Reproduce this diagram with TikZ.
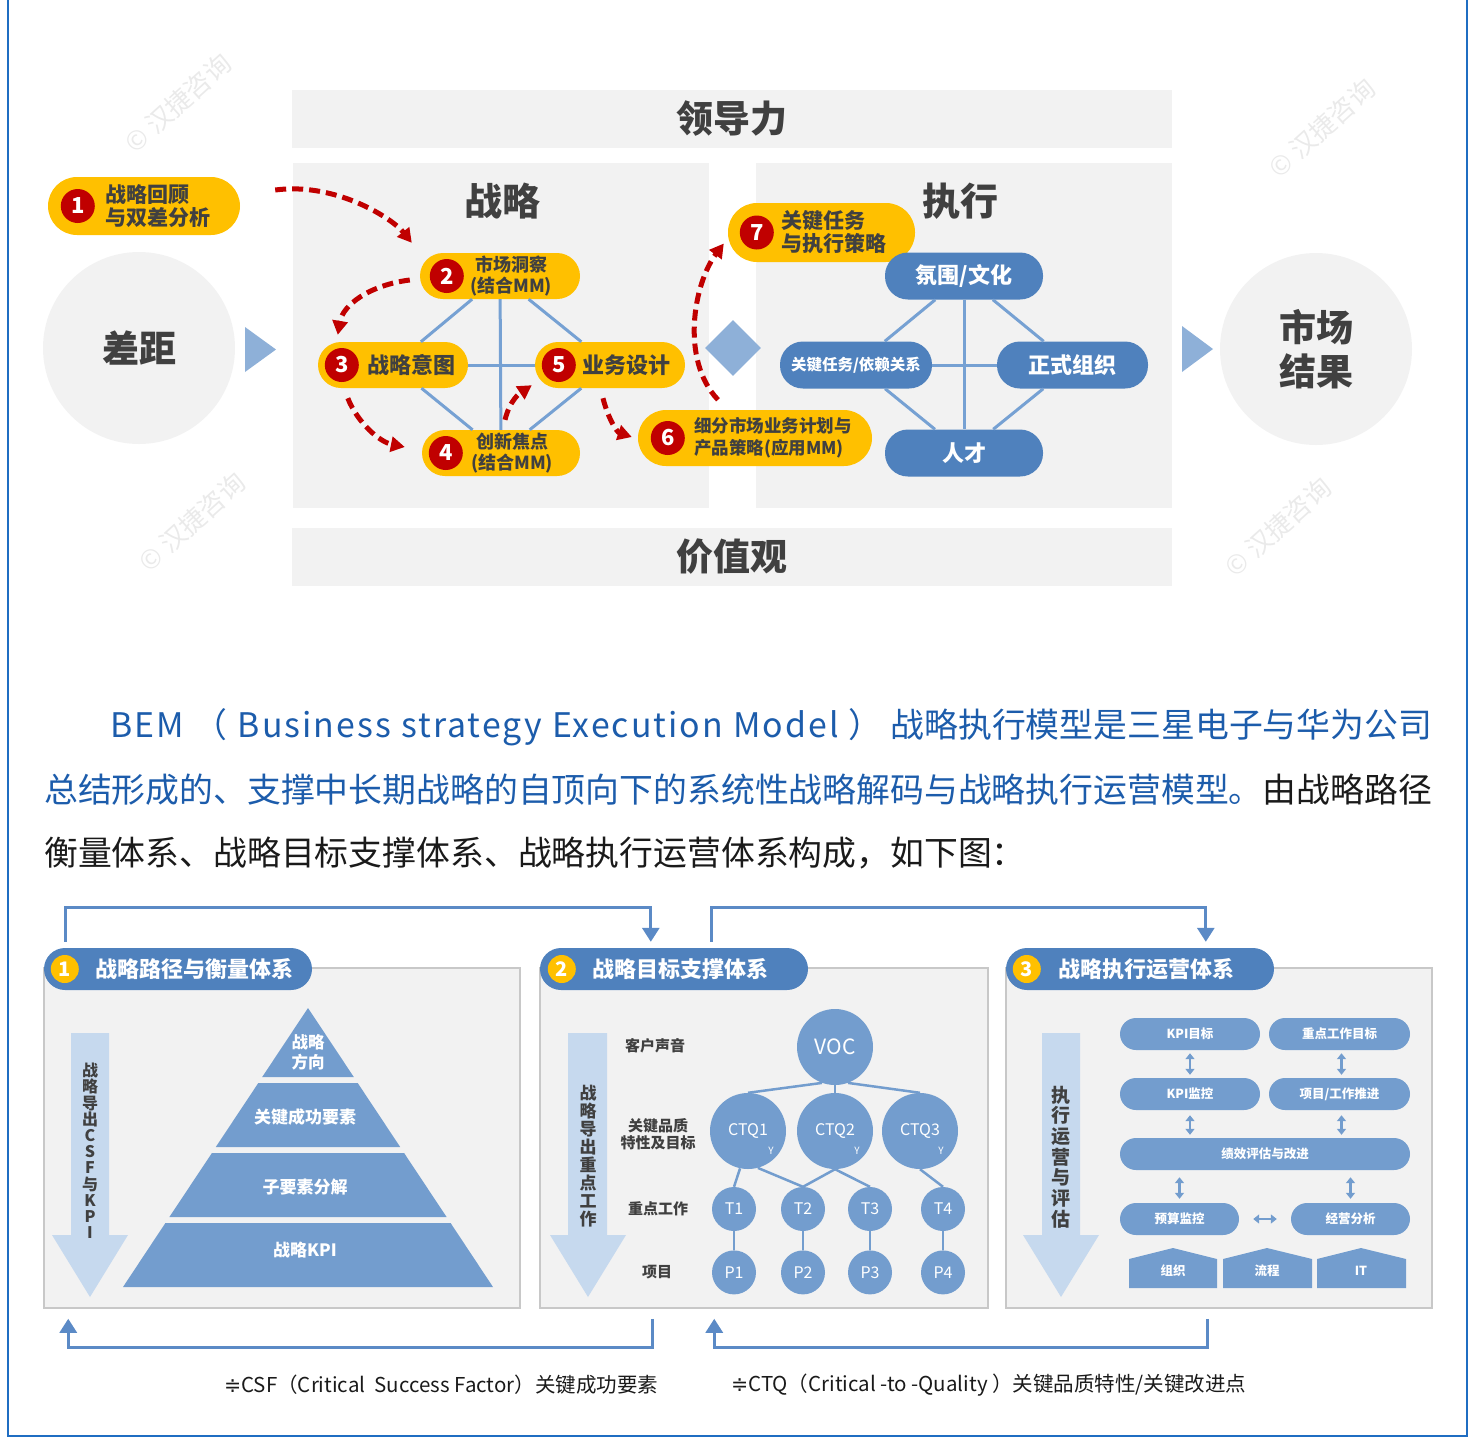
\documentclass[tikz,border=0pt]{standalone}
\usepackage{fontspec}
\setmainfont{Noto Sans CJK SC}
\newfontfamily\bemsym{DejaVu Sans}
\usepackage{tikz}
\usetikzlibrary{shapes.geometric, arrows.meta, positioning, calc}

\definecolor{bemgray}{HTML}{F2F2F2}
\definecolor{bemtext}{HTML}{404040}
\definecolor{bemink}{HTML}{1C5CAB}
\definecolor{bemblack}{HTML}{1A1A1A}
\definecolor{bemyellow}{HTML}{FFC000}
\definecolor{bemred}{HTML}{C00000}
\definecolor{bemblue}{HTML}{4F81BD}
\definecolor{bemlight}{HTML}{8EB0D8}
\definecolor{bemlink}{HTML}{76A1D3}
\definecolor{bemmid}{HTML}{739DCE}
\definecolor{bempale}{HTML}{C6D9EE}
\definecolor{bemedge}{HTML}{C8C8C8}
\definecolor{bemframe}{HTML}{1F6DC2}
\definecolor{bemconn}{HTML}{5B8AC6}
\definecolor{bemmark}{HTML}{EAEAEA}

\newcommand{\bemfs}[1]{\fontsize{#1}{#1}\selectfont}

\tikzset{
  bem band/.style={
    rectangle, fill=bemgray, minimum width=880pt, minimum height=58pt,
    font=\bfseries\bemfs{37}, text=bemtext
  },
  bem panel/.style={
    rectangle, fill=bemgray, inner sep=0pt
  },
  bem title/.style={
    font=\bfseries\bemfs{38}, text=bemtext
  },
  bem round/.style={
    circle, fill=bemgray, minimum size=192pt, inner sep=0pt,
    font=\bfseries\fontsize{37}{44}\selectfont, text=bemtext, align=center
  },
  bem diamond/.style={
    diamond, fill=bemlight, minimum width=56pt, minimum height=56pt, inner sep=0pt
  },
  bem mark/.style={
    rotate=42, text=bemmark, font=\bemfs{26}
  },
  st pill/.style={
    rectangle, rounded corners=23pt, fill=bemyellow,
    minimum height=46pt, inner sep=0pt
  },
  st num/.style={
    circle, fill=bemred, text=white, minimum size=34pt, inner sep=0pt,
    font=\bfseries\bemfs{22}
  },
  st text/.style={
    text=bemtext, inner sep=0pt, font=\bfseries\fontsize{21}{23}\selectfont
  },
  st link/.style={
    draw=bemlink, line width=3pt
  },
  st flow/.style={
    draw=bemred, line width=5pt, dash pattern=on 11pt off 6pt,
    -{Triangle[length=14pt,width=15pt]}
  },
  ex pill/.style={
    rectangle, rounded corners=23pt, fill=bemblue, text=white,
    minimum height=47pt, inner sep=0pt, font=\bfseries\bemfs{22}
  },
  bem box/.style={
    rectangle, fill=bemgray, draw=bemedge, line width=1.5pt, inner sep=0pt
  },
  bem head/.style={
    rectangle, rounded corners=21pt, fill=bemblue, minimum height=42pt, inner sep=0pt
  },
  bem badge/.style={
    circle, fill=bemyellow, text=white, minimum size=28pt, inner sep=0pt,
    font=\bfseries\bemfs{20}
  },
  bem head text/.style={
    text=white, inner sep=0pt, font=\bfseries\bemfs{22}
  },
  bem down/.style={
    fill=bempale
  },
  bem vtext/.style={
    text=bemtext, inner sep=0pt, align=center
  },
  pyr text/.style={
    text=white, inner sep=0pt, align=center, font=\bfseries\fontsize{17}{20}\selectfont
  },
  tr big/.style={
    circle, fill=bemmid, text=white, minimum size=76pt, inner sep=0pt,
    font=\bemfs{16}
  },
  tr small/.style={
    circle, fill=bemmid, text=white, minimum size=44pt, inner sep=0pt,
    font=\bemfs{16}
  },
  tr y/.style={
    text=white, inner sep=0pt, font=\bemfs{10}
  },
  tr label/.style={
    text=bemtext, inner sep=0pt, align=center, font=\bfseries\fontsize{15}{17}\selectfont
  },
  tr link/.style={
    draw=bemmid, line width=2.5pt
  },
  op box/.style={
    rectangle, rounded corners=16pt, fill=bemmid, text=white,
    minimum height=32pt, inner sep=0pt, font=\bfseries\bemfs{12.5}
  },
  op arrow/.style={
    draw=bemmid, line width=2.5pt,
    {Triangle[length=6pt,width=9pt]}-{Triangle[length=6pt,width=9pt]}
  },
  bem conn/.style={
    draw=bemconn, line width=3pt, -{Triangle[length=14pt,width=17pt]}
  },
  bem para/.style={
    anchor=west, inner sep=0pt, font=\bemfs{33.85}
  },
  bem note/.style={
    anchor=west, inner sep=0pt, text=bemblack, font=\bemfs{20.5}
  }
}

\begin{document}
\begin{tikzpicture}[x=1pt, y=-1pt]
  \useasboundingbox (0,0) rectangle (1478,1444);
  % outer frame
  \draw[bemframe, line width=2.5pt] (8,-5) -- (8,1436) -- (1467,1436) -- (1467,-5);

  % watermarks
  \node[bem mark] (wm1) at (178,103) {© 汉捷咨询};
  \node[bem mark] (wm2) at (1322,128) {© 汉捷咨询};
  \node[bem mark] (wm3) at (192,522) {© 汉捷咨询};
  \node[bem mark] (wm4) at (1278,527) {© 汉捷咨询};

  % Top model: bands and panels
  \node[bem band] (lead) at (732,119) {领导力};
  \node[bem band] (value) at (732,557) {价值观};
  \node[bem panel, minimum width=416pt, minimum height=345pt] (stp) at (501,335.5) {};
  \node[bem panel, minimum width=416pt, minimum height=345pt] (exp) at (964,335.5) {};
  \node[bem title] (stt) at (502,201) {战略};
  \node[bem title] (ext) at (960,201) {执行};

  \node[bem round] (gap) at (139,348) {差距};
  \node[bem round] (res) at (1316,349) {市场\\结果};
  \fill[bemlight] (245,327) -- (276,349.5) -- (245,372) -- cycle;
  \fill[bemlight] (1182,326) -- (1213,349) -- (1182,372) -- cycle;
  \node[bem diamond] (mid) at (733,348) {};

  % Strategy steps
  \node[st pill, minimum width=192pt, minimum height=58pt, rounded corners=29pt] (s1) at (144,206) {};
  \node[st pill, minimum width=160pt] (s2) at (500,276) {};
  \node[st pill, minimum width=150pt] (s3) at (393,365) {};
  \node[st pill, minimum width=150pt] (s5) at (610,365) {};
  \node[st pill, minimum width=158pt] (s4) at (501,453) {};
  \node[st pill, minimum width=234pt, minimum height=56pt, rounded corners=28pt] (s6) at (755,438) {};
  \node[st pill, minimum width=187pt, minimum height=59pt, rounded corners=29pt] (s7) at (821.5,232.5) {};

  \draw[st link] (s2) -- (s4);
  \draw[st link] (s3) -- (s5);
  \draw[st link] (s2) -- (s3);
  \draw[st link] (s2) -- (s5);
  \draw[st link] (s3) -- (s4);
  \draw[st link] (s5) -- (s4);

  \node[st num] (n1) at ([shift={(30,0)}]s1.west) {1};
  \node[st num] (n2) at ([shift={(27,0)}]s2.west) {2};
  \node[st num] (n3) at ([shift={(24,0)}]s3.west) {3};
  \node[st num] (n5) at ([shift={(24,0)}]s5.west) {5};
  \node[st num] (n4) at ([shift={(24,0)}]s4.west) {4};
  \node[st num] (n6) at ([shift={(30,0)}]s6.west) {6};
  \node[st num] (n7) at ([shift={(29,0)}]s7.west) {7};

  \node[st text, align=left, right=10pt of n1] (l1) {战略回顾\\与双差分析};
  \node[st text, align=center, right=6pt of n2, font=\bfseries\fontsize{18}{21}\selectfont] (l2) {市场洞察\\(结合MM)};
  \node[st text, right=8pt of n3, font=\bfseries\bemfs{22}] (l3) {战略意图};
  \node[st text, right=6pt of n5, font=\bfseries\bemfs{22}] (l5) {业务设计};
  \node[st text, align=center, right=8pt of n4, font=\bfseries\fontsize{18}{21}\selectfont] (l4) {创新焦点\\(结合MM)};
  \node[st text, align=left, right=9pt of n6, font=\bfseries\fontsize{17.5}{22}\selectfont] (l6) {细分市场业务计划与\\产品策略(应用MM)};
  \node[st text, align=left, right=7pt of n7] (l7) {关键任务\\与执行策略};

  % red flow between the steps
  \coordinate (f1s) at ([shift={(35,-16)}]s1.east);
  \draw[st flow] (f1s) .. controls +(60,-8) and +(-20,-25) .. ([shift={(-8,-10)}]s2.north west);
  \draw[st flow] ([shift={(-10,4)}]s2.west) .. controls +(-40,5) and +(5,-30) .. ([shift={(20,-7)}]s3.north west);
  \draw[st flow] ([shift={(30,10)}]s3.south west) .. controls +(10,25) and +(-25,-5) .. ([shift={(-17,-6)}]s4.west);
  \draw[st flow] ([shift={(4,-10)}]s4.north) .. controls +(5,-20) and +(-12,8) .. ([shift={(-3,-3)}]s5.south west);
  \draw[st flow] ([shift={(-7,10)}]s5.south) .. controls +(5,20) and +(-15,-5) .. ([shift={(-6,-1)}]s6.west);
  \draw[st flow] ([shift={(-37,-10)}]s6.north) .. controls +(-38,-40) and +(-30,40) .. ([shift={(-4,11)}]s7.west);

  % Execution elements
  \node[ex pill, minimum width=158pt] (e1) at (964,276) {氛围/文化};
  \node[ex pill, minimum width=152pt, font=\bfseries\bemfs{15.5}] (e2) at (856,365) {关键任务/依赖关系};
  \node[ex pill, minimum width=151pt] (e3) at (1072.5,365) {正式组织};
  \node[ex pill, minimum width=158pt] (e4) at (964,453) {人才};
  \draw[st link] (e1) -- (e4);
  \draw[st link] (e2) -- (e3);
  \draw[st link] (e1) -- (e2);
  \draw[st link] (e1) -- (e3);
  \draw[st link] (e2) -- (e4);
  \draw[st link] (e3) -- (e4);

  % Paragraph
  \node[bem para, text=bemink] (par1) at (110,727) {\makebox[1322pt][s]{{\addfontfeatures{LetterSpace=6}BEM （ Business strategy Execution Model ）} 战略执行模型是三星电子与华为公司}};
  \node[bem para] (par2) at (44,790) {{\color{bemink}总结形成的、支撑中长期战略的自顶向下的系统性战略解码与战略执行运营模型。}{\color{bemblack}由战略路径}};
  \node[bem para, text=bemblack] (par3) at (44,853) {衡量体系、战略目标支撑体系、战略执行运营体系构成，如下图：};

  % Row of the three systems
  \node[bem box, minimum width=476pt, minimum height=340pt] (sys1) at (282,1138) {};
  \node[bem box, minimum width=448pt, minimum height=340pt] (sys2) at (764,1138) {};
  \node[bem box, minimum width=426pt, minimum height=340pt] (sys3) at (1219,1138) {};
  \node[bem head, minimum width=268pt] (hd1) at (178,969) {};
  \node[bem head, minimum width=268pt] (hd2) at (674,969) {};
  \node[bem head, minimum width=268pt] (hd3) at (1140,969) {};
  \node[bem badge] (bd1) at ([shift={(21,0)}]hd1.west) {1};
  \node[bem badge] (bd2) at ([shift={(22,0)}]hd2.west) {2};
  \node[bem badge] (bd3) at ([shift={(21,0)}]hd3.west) {3};
  \node[bem head text, right=16pt of bd1] (ht1) {战略路径与衡量体系};
  \node[bem head text, right=16pt of bd2] (ht2) {战略目标支撑体系};
  \node[bem head text, right=17pt of bd3] (ht3) {战略执行运营体系};

  % big down arrows
  \fill[bem down] (71,1033) -- (109,1033) -- (109,1235) -- (128,1235) -- (90,1297) -- (52,1235) -- (71,1235) -- cycle;
  \fill[bem down] (568,1033) -- (607,1033) -- (607,1235) -- (626,1235) -- (588,1297) -- (550,1235) -- (568,1235) -- cycle;
  \fill[bem down] (1042,1033) -- (1080,1033) -- (1080,1235) -- (1099,1235) -- (1061,1297) -- (1023,1235) -- (1042,1235) -- cycle;
  \node[bem vtext, font=\bfseries\fontsize{16}{16.2}\selectfont] (v1) at (90,1151) {战\\略\\导\\出\\C\\S\\F\\与\\K\\P\\I};
  \node[bem vtext, font=\bfseries\fontsize{17}{18}\selectfont] (v2) at (588,1156) {战\\略\\导\\出\\重\\点\\工\\作};
  \node[bem vtext, font=\bfseries\fontsize{19}{20.7}\selectfont] (v3) at (1061,1157) {执\\行\\运\\营\\与\\评\\估};

  % 1: pyramid
  \fill[bemmid] (308,1008) -- (353.8,1077) -- (262.2,1077) -- cycle;
  \fill[bemmid] (258.3,1083) -- (357.7,1083) -- (400.2,1147) -- (215.8,1147) -- cycle;
  \fill[bemmid] (211.9,1153) -- (404.1,1153) -- (446.6,1217) -- (169.4,1217) -- cycle;
  \fill[bemmid] (165.4,1223) -- (450.6,1223) -- (493,1287) -- (123,1287) -- cycle;
  \node[pyr text, font=\bfseries\fontsize{16.5}{20}\selectfont] (py1) at (308,1052) {战略\\方向};
  \node[pyr text] (py2) at (305,1117) {关键成功要素};
  \node[pyr text] (py3) at (305,1187) {子要素分解};
  \node[pyr text] (py4) at (305,1250) {战略KPI};

  % 2: VOC tree
  \node[tr big, font=\bemfs{21}] (voc) at (835,1047) {VOC};
  \node[tr big] (c1) at (748,1131) {CTQ1};
  \node[tr big] (c2) at (835,1131) {CTQ2};
  \node[tr big] (c3) at (920,1131) {CTQ3};
  \node[tr y] (y1) at ([shift={(23,20)}]c1.center) {Y};
  \node[tr y] (y2) at ([shift={(22,20)}]c2.center) {Y};
  \node[tr y] (y3) at ([shift={(21,20)}]c3.center) {Y};
  \node[tr small] (t1) at (734,1209) {T1};
  \node[tr small] (t2) at (803,1209) {T2};
  \node[tr small] (t3) at (870,1209) {T3};
  \node[tr small] (t4) at (943,1209) {T4};
  \node[tr small, below=19pt of t1] (p1) {P1};
  \node[tr small, below=19pt of t2] (p2) {P2};
  \node[tr small, below=19pt of t3] (p3) {P3};
  \node[tr small, below=19pt of t4] (p4) {P4};
  \draw[tr link] (voc.250) -- (c1.north);
  \draw[tr link] (voc.south) -- (c2.north);
  \draw[tr link] (voc.290) -- (c3.north);
  \draw[tr link] (c1.258) -- (t1.north);
  \draw[tr link] (c1.285) -- (t2.north);
  \draw[tr link] (c2.south) -- (t2.north);
  \draw[tr link] (c2.south) -- (t3.north);
  \draw[tr link] (c3.south) -- (t4.north);
  \draw[tr link] (t1) -- (p1);
  \draw[tr link] (t2) -- (p2);
  \draw[tr link] (t3) -- (p3);
  \draw[tr link] (t4) -- (p4);
  \node[tr label] (lb1) at (655,1046) {客户声音};
  \node[tr label] (lb2) at (658,1134) {关键品质\\特性及目标};
  \node[tr label] (lb3) at (658,1209) {重点工作};
  \node[tr label] (lb4) at (657,1272) {项目};

  % 3: operation boxes
  \node[op box, minimum width=140pt] (k1) at (1190,1034) {KPI目标};
  \node[op box, minimum width=141pt] (w1) at (1339.5,1034) {重点工作目标};
  \node[op box, minimum width=140pt] (k2) at (1190,1094) {KPI监控};
  \node[op box, minimum width=141pt] (w2) at (1339.5,1094) {项目/工作推进};
  \node[op box, minimum width=290pt] (perf) at (1265,1154) {绩效评估与改进};
  \node[op box, minimum width=119pt] (bud) at (1179.5,1219) {预算监控};
  \node[op box, minimum width=119pt] (ana) at (1350.5,1219) {经营分析};
  \draw[op arrow, shorten <=3pt, shorten >=3pt] (k1) -- (k2);
  \draw[op arrow, shorten <=3pt, shorten >=3pt] ([xshift=2pt]w1.south) -- ([xshift=2pt]w2.north);
  \draw[op arrow, shorten <=5pt, shorten >=3pt] (k2.south) -- (k2.south |- perf.north);
  \draw[op arrow, shorten <=5pt, shorten >=3pt] ([xshift=2pt]w2.south) -- ([xshift=2pt]w2.south |- perf.north);
  \draw[op arrow, shorten <=7pt, shorten >=4pt] (perf.south -| bud.north) -- (bud.north);
  \draw[op arrow, shorten <=7pt, shorten >=4pt] (perf.south -| ana.north) -- (ana.north);
  \draw[op arrow, shorten <=14pt, shorten >=14pt] (bud) -- (ana);
  \fill[bemmid] (1129,1288) -- (1129,1259) -- (1173,1248) -- (1217,1259) -- (1217,1288) -- cycle;
  \fill[bemmid] (1223,1288) -- (1223,1259) -- (1267,1248) -- (1312,1259) -- (1312,1288) -- cycle;
  \fill[bemmid] (1317,1288) -- (1317,1259) -- (1361,1248) -- (1406,1259) -- (1406,1288) -- cycle;
  \node[op box, fill=none, minimum height=0pt] (org) at (1173,1271) {组织};
  \node[op box, fill=none, minimum height=0pt] (flow) at (1267,1271) {流程};
  \node[op box, fill=none, minimum height=0pt] (itx) at (1361,1271) {IT};

  % feedback connectors
  \coordinate (t1s) at ([shift={(22,-6)}]hd1.north west);
  \coordinate (t1e) at ([shift={(111,-6)}]hd2.north west);
  \coordinate (t2s) at ([shift={(172,-6)}]hd2.north west);
  \coordinate (t2e) at ([shift={(200,-6)}]hd3.north west);
  \draw[bem conn] (t1s) -- ++(0,-34) -| (t1e);
  \draw[bem conn] (t2s) -- ++(0,-34) -| (t2e);
  \coordinate (b1s) at ([shift={(113,10)}]sys2.south west);
  \coordinate (b1e) at ([shift={(25,10)}]sys1.south west);
  \coordinate (b2s) at ([shift={(202,10)}]sys3.south west);
  \coordinate (b2e) at ([shift={(175,10)}]sys2.south west);
  \draw[bem conn] (b1s) -- ++(0,29) -| (b1e);
  \draw[bem conn] (b2s) -- ++(0,29) -| (b2e);

  % notes
  \node[bem note] (csf) at (224,1385) {{\bemsym ≑}CSF（Critical\ \ Success Factor）关键成功要素};
  \node[bem note] (ctq) at (731,1385) {{\bemsym ≑}CTQ（Critical -to -Quality ）关键品质特性/关键改进点};
\end{tikzpicture}
\end{document}
